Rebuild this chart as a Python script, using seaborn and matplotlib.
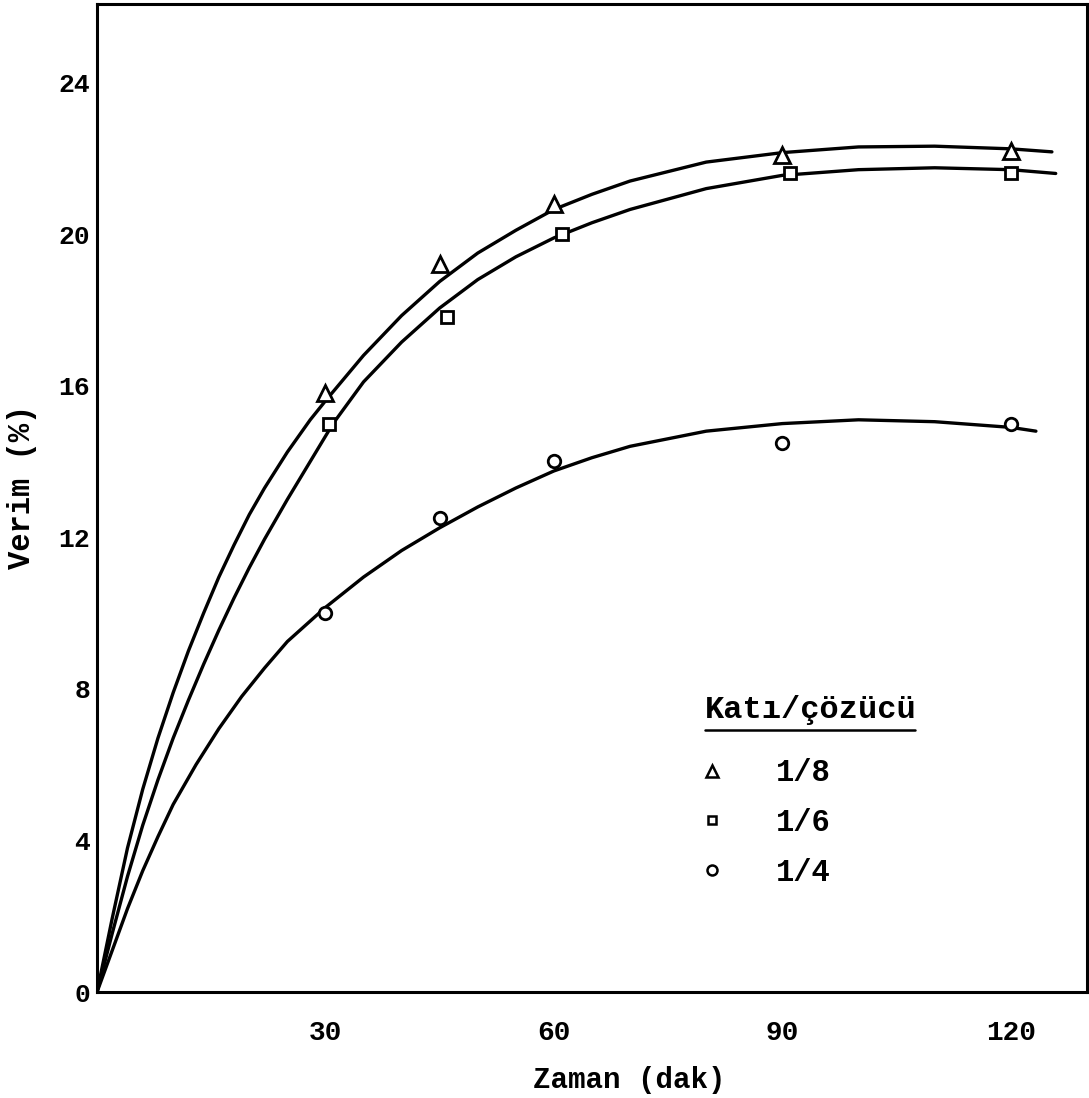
import numpy as np
import pandas as pd
import matplotlib
matplotlib.use("Agg")
import matplotlib.pyplot as plt
from matplotlib.lines import Line2D
import seaborn as sns

# ---- data ----
x_ticks = [30, 60, 90, 120]
y_ticks = [0, 4, 8, 12, 16, 20, 24]
series_labels = ["1/8", "1/6", "1/4"]
legend_title = "Katı/çözücü"

# measured points
t_18 = [30, 45, 60, 90, 120]
v_18 = [15.8, 19.2, 20.8, 22.1, 22.2]
t_16 = [30.5, 46, 61, 91, 120]
v_16 = [15.0, 17.8, 20.0, 21.6, 21.6]
t_14 = [30, 45, 60, 90, 120]
v_14 = [10.0, 12.5, 14.0, 14.5, 15.0]

# hand-drawn curves
ct_18 = [0, 2, 4, 6, 8, 10, 12, 14, 16, 18, 20, 22, 25, 28, 30, 35, 40, 45, 50, 55, 60, 65, 70, 80, 90, 100, 110, 120, 125.4]
cv_18 = [0, 1.95, 3.8, 5.35, 6.7, 7.9, 9.0, 10.0, 10.95, 11.8, 12.6, 13.3, 14.25, 15.1, 15.6, 16.8, 17.85, 18.75, 19.5, 20.1, 20.65, 21.05, 21.4, 21.9, 22.15, 22.3, 22.32, 22.25, 22.17]
ct_16 = [0, 2, 4, 6, 8, 10, 12, 14, 16, 18, 20, 22, 25, 28, 31, 35, 40, 45, 50, 55, 60, 65, 70, 80, 90, 100, 110, 120, 125.9]
cv_16 = [0, 1.55, 3.05, 4.4, 5.6, 6.7, 7.7, 8.65, 9.55, 10.4, 11.2, 11.95, 13.0, 14.0, 15.0, 16.1, 17.15, 18.05, 18.8, 19.4, 19.9, 20.3, 20.65, 21.2, 21.55, 21.7, 21.75, 21.7, 21.6]
ct_14 = [0, 2, 4, 6, 8, 10, 13, 16, 19, 22, 25, 30, 35, 40, 45, 50, 55, 60, 65, 70, 80, 90, 100, 110, 120, 123.3]
cv_14 = [0, 1.1, 2.2, 3.2, 4.1, 4.95, 6.0, 6.95, 7.8, 8.55, 9.25, 10.15, 10.95, 11.65, 12.25, 12.8, 13.3, 13.75, 14.1, 14.4, 14.8, 15.0, 15.1, 15.05, 14.9, 14.8]

sns.set_theme(style="white")
plt.rcParams["font.family"] = ["Liberation Mono", "DejaVu Sans Mono"]
plt.rcParams["font.weight"] = "bold"
plt.rcParams["axes.labelweight"] = "bold"
plt.rcParams["text.color"] = "black"
plt.rcParams["axes.labelcolor"] = "black"

fig = plt.figure(figsize=(10.89, 10.98), dpi=100)
ax = fig.add_axes([0.0891, 0.0965, 0.909, 0.8998])

curves = [(ct_18, cv_18), (ct_16, cv_16), (ct_14, cv_14)]
for ct, cv in curves:
    sns.lineplot(x=ct, y=cv, ax=ax, color="black", linewidth=2.4,
                 sort=False, estimator=None)

pts = [(t_18, v_18, "^", 11), (t_16, v_16, "s", 8), (t_14, v_14, "o", 9)]
for t, v, m, ms in pts:
    sns.lineplot(x=t, y=v, ax=ax, color="black", linestyle="none",
                 marker=m, markersize=ms, markerfacecolor="white",
                 markeredgecolor="black", markeredgewidth=2.0,
                 sort=False, estimator=None)

ax.set_xlim(0, 130)
ax.set_ylim(0, 26.07)
ax.set_xticks(x_ticks)
ax.set_yticks(y_ticks)
ax.set_xticklabels([str(v) for v in x_ticks], fontsize=20)
ax.set_yticklabels([str(v) for v in y_ticks], fontsize=19)
ax.tick_params(axis="x", direction="in", length=13, width=1.6, pad=20, colors="black")
ax.tick_params(axis="y", direction="in", length=9, width=1.6, pad=5, colors="black")
for s in ax.spines.values():
    s.set_visible(True)
    s.set_color("black")
    s.set_linewidth(2.2)

ax.set_xlabel("Zaman (dak)", fontsize=21, color="black", va="center")
ax.set_ylabel("Verim (%)", fontsize=22, color="black", va="center")
ax.xaxis.set_label_coords(0.538, -0.089)
ax.yaxis.set_label_coords(-0.0758, 0.511)

handles = [Line2D([], [], linestyle="none", marker=m, markersize=ms * 0.8,
                  markerfacecolor="white", markeredgecolor="black",
                  markeredgewidth=1.8) for _, _, m, ms in pts]
leg = ax.legend(handles, series_labels, loc="upper left",
                bbox_to_anchor=(0.572, 0.2645), frameon=False, fontsize=22,
                handlelength=1.4, handletextpad=1.4, labelspacing=0.65,
                labelcolor="black")
ax.text(0.614, 0.2773, legend_title, transform=ax.transAxes, fontsize=23,
        ha="left", va="baseline", color="black")
ax.plot([0.614, 0.826], [0.2652, 0.2652], transform=ax.transAxes,
        color="black", linewidth=1.8, clip_on=False)

fig.savefig("out.png", dpi=100, facecolor="white")
